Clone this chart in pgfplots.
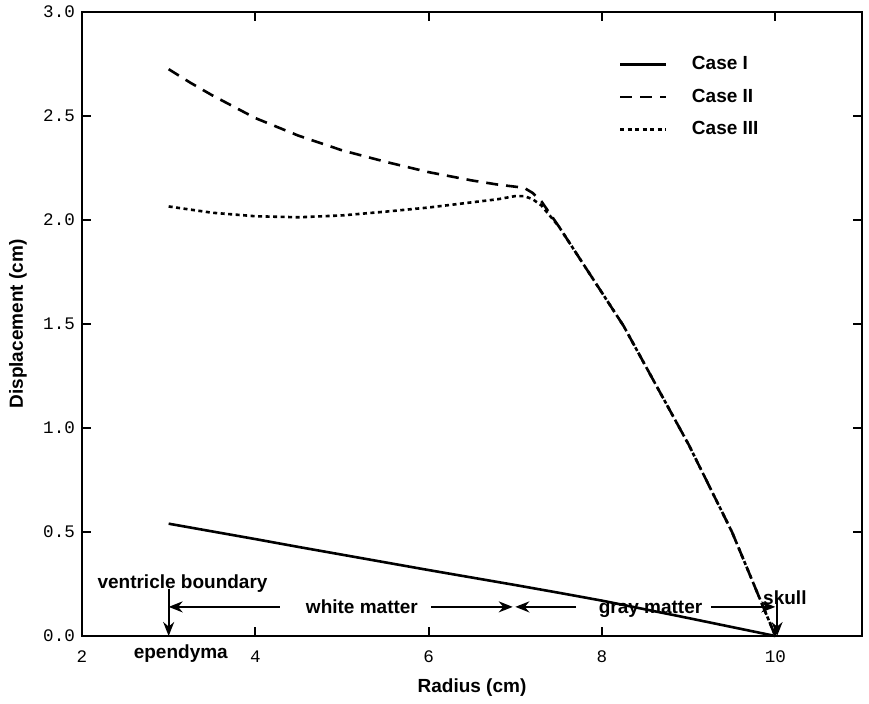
\documentclass[border=0pt]{standalone}
\usepackage{fontspec}
\setmainfont{Liberation Sans}
\setmonofont{Liberation Mono}
\usepackage{pgfplots}
\pgfplotsset{compat=1.18}
\usetikzlibrary{arrows.meta}

\begin{document}
\begin{tikzpicture}
\begin{axis}[
  name=ax, scale only axis, width=390pt, height=312pt,
  xmin=2, xmax=11, ymin=0, ymax=3,
  xtick={2,4,6,8,10}, ytick={0,0.5,1.0,1.5,2.0,2.5,3.0},
  tick align=inside, major tick length=4.5pt,
  axis line style={line width=1.3pt},
  every tick/.style={line width=1pt, black},
  /pgf/number format/assume math mode=true,
  ticklabel style={font=\ttfamily\fontsize{8.8}{10}\selectfont},
  xticklabel style={yshift=-4pt},
  yticklabel style={/pgf/number format/fixed, /pgf/number format/fixed zerofill, /pgf/number format/precision=1},
  xlabel={Radius (cm)}, ylabel={Displacement (cm)},
  every axis x label/.style={at={(axis description cs:0.5,-0.082)}, anchor=center,
    font=\bfseries\fontsize{9.5}{11}\selectfont},
  every axis y label/.style={at={(axis description cs:-0.082,0.5)}, anchor=center, rotate=90,
    font=\bfseries\fontsize{9.5}{11}\selectfont},
  clip=false,
  legend style={draw=none, fill=none, at={(axis description cs:0.68,0.942)}, anchor=north west,
    font=\bfseries\fontsize{9.5}{11}\selectfont, row sep=4pt},
  legend cell align=left,
  legend image code/.code={\draw[#1] (0cm,0cm) -- (0.8cm,0cm); \path (1.17cm,0cm);},
]
\addplot[black, line width=1.3pt] coordinates {
 (3,0.54) (3.5,0.503) (4,0.466) (4.5,0.428) (5,0.391) (5.5,0.354) (6,0.317) (6.5,0.281)
 (7,0.245) (7.5,0.208) (8,0.170) (8.5,0.128) (9,0.086) (9.5,0.043) (10,0)};
\addlegendentry{Case I}
\addplot[black, line width=1.3pt, dash pattern=on 6pt off 4pt] coordinates {
 (3,2.725) (3.25,2.66) (3.5,2.60) (4,2.49) (4.5,2.405) (5,2.335) (5.5,2.28) (6,2.23)
 (6.5,2.19) (6.8,2.17) (7,2.16) (7.1,2.155) (7.2,2.13) (7.3,2.09) (7.5,1.97) (7.75,1.81)
 (8,1.65) (8.25,1.49) (8.5,1.30) (9,0.92) (9.5,0.50) (10,0)};
\addlegendentry{Case II}
\addplot[black, line width=1.3pt, dash pattern=on 2pt off 1.75pt] coordinates {
 (3,2.065) (3.5,2.035) (4,2.018) (4.5,2.013) (5,2.022) (5.5,2.04) (6,2.06) (6.5,2.085)
 (6.8,2.10) (7,2.115) (7.1,2.115) (7.2,2.10) (7.3,2.07) (7.4,2.02) (7.5,1.97) (7.75,1.81)
 (8,1.65) (8.25,1.49) (8.5,1.30) (9,0.92) (9.5,0.50) (10,0)};
\addlegendentry{Case III}

\tikzset{ann/.style={font=\bfseries\fontsize{9.5}{11}\selectfont, inner sep=0pt},
         arr/.style={line width=1pt, -{Stealth[length=7pt,width=5.5pt]}}}
\node[ann, anchor=base] at (axis cs:3.16,0.23) {ventricle boundary};
\draw[arr] (axis cs:3,0.225) -- (axis cs:3,0);
\node[ann, anchor=base] at (axis cs:3.14,-0.106) {ependyma};
\draw[arr] (axis cs:4.28,0.14) -- (axis cs:3.0,0.14);
\node[ann, anchor=base] at (axis cs:5.23,0.11) {white matter};
\draw[arr] (axis cs:6.03,0.14) -- (axis cs:6.97,0.14);
\draw[arr] (axis cs:7.70,0.14) -- (axis cs:7.0,0.14);
\node[ann, anchor=base] at (axis cs:8.56,0.11) {gray matter};
\draw[arr] (axis cs:9.26,0.14) -- (axis cs:10.0,0.14);
\node[ann, anchor=base] at (axis cs:10.11,0.15) {skull};
\draw[arr] (axis cs:10.02,0.18) -- (axis cs:10.02,0);
\end{axis}
\pgfresetboundingbox
\path ([shift={(-41pt,-33.5pt)}]ax.south west) rectangle ([shift={(3.5pt,6pt)}]ax.north east);
\end{tikzpicture}
\end{document}
